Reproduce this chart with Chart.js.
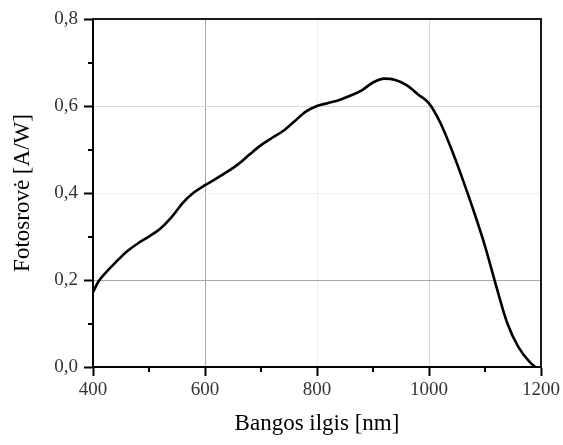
<!DOCTYPE html>
<html>
<head>
<meta charset="utf-8">
<script src="https://cdn.jsdelivr.net/npm/chart.js@4.4.0/dist/chart.umd.min.js"></script>
<style>
  html, body { margin: 0; padding: 0; background: #fff; }
  #wrap { width: 563px; height: 445px; position: relative; }
</style>
</head>
<body>
<div id="wrap"><canvas id="c" width="563" height="445"></canvas></div>
<script>
// Wavelength (nm)
const wavelengths = [400, 410, 420, 440, 460, 480, 500, 520, 540, 560, 580, 600, 620, 640, 660, 680, 700, 720, 740, 760, 780, 800, 820, 840, 860, 880, 900, 920, 940, 960, 980, 1000, 1020, 1040, 1060, 1080, 1100, 1120, 1140, 1160, 1180, 1190];
// Photocurrent responsivity (A/W)
const responsivity = [0.172, 0.197, 0.213, 0.240, 0.265, 0.284, 0.300, 0.318, 0.344, 0.377, 0.401, 0.418, 0.433, 0.449, 0.467, 0.489, 0.510, 0.527, 0.543, 0.565, 0.587, 0.600, 0.607, 0.614, 0.624, 0.636, 0.654, 0.663, 0.660, 0.648, 0.627, 0.606, 0.562, 0.501, 0.432, 0.358, 0.278, 0.186, 0.100, 0.045, 0.011, 0.000];
const xTickValues = [400, 600, 800, 1000, 1200];
const xTickLabels = ['400', '600', '800', '1000', '1200'];
const yTickValues = [0.0, 0.2, 0.4, 0.6, 0.8];
const yTickLabels = ['0,0', '0,2', '0,4', '0,6', '0,8'];
const xMinorTicks = [500, 700, 900, 1100];
const yMinorTicks = [0.1, 0.3, 0.5, 0.7];
const xTitle = 'Bangos ilgis [nm]';
const yTitle = 'Fotosrovė [A/W]';

const points = wavelengths.map((w, i) => ({ x: w, y: responsivity[i] }));

const xGridColors = { 600: '#a8a8a8', 800: '#ececec', 1000: '#d6d6d6' };
const yGridColors = { 0.2: '#a8a8a8', 0.4: '#ececec', 0.6: '#d8d8d8' };

const frameAndMinor = {
  id: 'frameAndMinor',
  afterDraw(chart) {
    const { ctx, chartArea: a, scales: { x, y } } = chart;
    ctx.save();
    ctx.strokeStyle = '#1a1a1a';
    ctx.lineWidth = 2;
    ctx.beginPath();
    ctx.moveTo(a.left, a.top);
    ctx.lineTo(a.right, a.top);
    ctx.lineTo(a.right, a.bottom);
    ctx.stroke();
    ctx.strokeStyle = '#000';
    ctx.beginPath();
    xMinorTicks.forEach(v => {
      const px = Math.round(x.getPixelForValue(v));
      ctx.moveTo(px, a.bottom);
      ctx.lineTo(px, a.bottom + 5);
    });
    yMinorTicks.forEach(v => {
      const py = Math.round(y.getPixelForValue(v));
      ctx.moveTo(a.left, py);
      ctx.lineTo(a.left - 5, py);
    });
    ctx.stroke();
    ctx.restore();
  }
};

new Chart(document.getElementById('c'), {
  type: 'scatter',
  data: {
    datasets: [{
      data: points,
      showLine: true,
      borderColor: '#000',
      borderWidth: 2.6,
      pointRadius: 0,
      fill: false,
      cubicInterpolationMode: 'monotone'
    }]
  },
  options: {
    responsive: false,
    animation: false,
    devicePixelRatio: 1,
    layout: { padding: { left: 0, right: 20, top: 19, bottom: 0 } },
    plugins: { legend: { display: false }, tooltip: { enabled: false } },
    scales: {
      x: {
        type: 'linear',
        min: 400, max: 1200,
        afterBuildTicks(s) { s.ticks = xTickValues.map(v => ({ value: v })); },
        afterFit(s) { s.height = 78; },
        border: { display: true, color: '#000', width: 2 },
        grid: {
          color: c => xGridColors[c.tick && c.tick.value] || 'rgba(0,0,0,0)',
          lineWidth: 1,
          drawTicks: true,
          tickLength: 9,
          tickColor: '#000',
          tickWidth: 2
        },
        ticks: {
          padding: 3,
          color: '#333',
          font: { family: 'Liberation Serif', size: 19 },
          callback: (v) => xTickLabels[xTickValues.indexOf(v)],
          maxRotation: 0
        },
        title: {
          display: true,
          text: xTitle,
          color: '#000',
          font: { family: 'Liberation Serif', size: 23 },
          padding: { top: 0, bottom: 7 }
        }
      },
      y: {
        type: 'linear',
        min: 0, max: 0.8,
        afterBuildTicks(s) { s.ticks = yTickValues.map(v => ({ value: v })); },
        afterFit(s) { s.width = 93; },
        border: { display: true, color: '#000', width: 2 },
        grid: {
          color: c => yGridColors[c.tick && Math.round(c.tick.value * 10) / 10] || 'rgba(0,0,0,0)',
          lineWidth: 1,
          drawTicks: true,
          tickLength: 9,
          tickColor: '#000',
          tickWidth: 2
        },
        ticks: {
          padding: 6,
          color: '#333',
          font: { family: 'Liberation Serif', size: 19 },
          callback: (v) => yTickLabels[yTickValues.findIndex(t => Math.abs(t - v) < 1e-9)]
        },
        title: {
          display: true,
          text: yTitle,
          color: '#000',
          font: { family: 'Liberation Serif', size: 23 },
          padding: { top: 9, bottom: 0 }
        }
      }
    }
  },
  plugins: [frameAndMinor]
});
</script>
</body>
</html>
